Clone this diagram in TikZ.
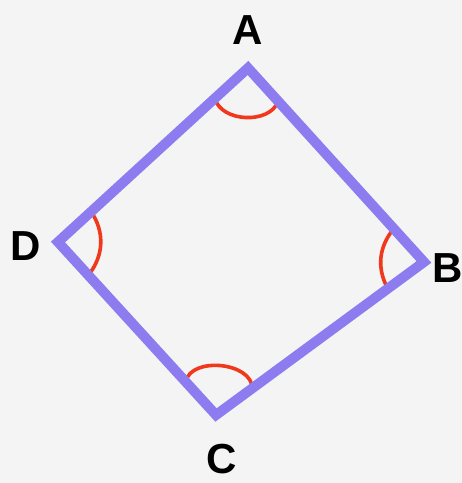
\documentclass[tikz,border=0pt]{standalone}
\usepackage{fontspec}
\setmainfont{Liberation Sans}
\usepackage{xcolor}
\usepackage{tikz}
\usetikzlibrary{calc}
\definecolor{edgepurple}{HTML}{8C7CF0}
\definecolor{anglered}{HTML}{F0381C}
\definecolor{paper}{HTML}{F4F4F4}

\begin{document}
\begin{tikzpicture}[
  x=1pt, y=1pt,
  side/.style={draw=edgepurple, line width=10pt, line join=miter, line cap=round},
  anglemark/.style={draw=anglered, line width=3.6pt},
  lbl/.style={font=\fontsize{42}{42}\selectfont\bfseries, text=black, inner sep=0pt}]
\fill[paper] (0,0) rectangle (462,483);
\useasboundingbox (0,0) rectangle (462,483);
% corners
\coordinate (A) at (248,415);
\coordinate (B) at (424,221);
\coordinate (C) at (216,68);
\coordinate (D) at (58,241);
% angle marks
\draw[anglemark] ($(A)!45pt!(D)$) to[bend right=72] ($(A)!45pt!(B)$);
\draw[anglemark] ($(B)!45pt!(A)$) to[bend right=34] ($(B)!45pt!(C)$);
\draw[anglemark] ($(C)!45pt!(B)$) to[bend right=84] ($(C)!45pt!(D)$);
\draw[anglemark] ($(D)!45pt!(C)$) to[bend right=36] ($(D)!45pt!(A)$);
% sides
\draw[side] (A) -- (B) -- (C) -- (D) -- cycle;
% labels
\node[lbl] (la) at (248,453) {A};
\node[lbl] (lb) at (448,215) {B};
\node[lbl] (lc) at (222,24) {C};
\node[lbl] (ld) at (26,237) {D};
\end{tikzpicture}
\end{document}
